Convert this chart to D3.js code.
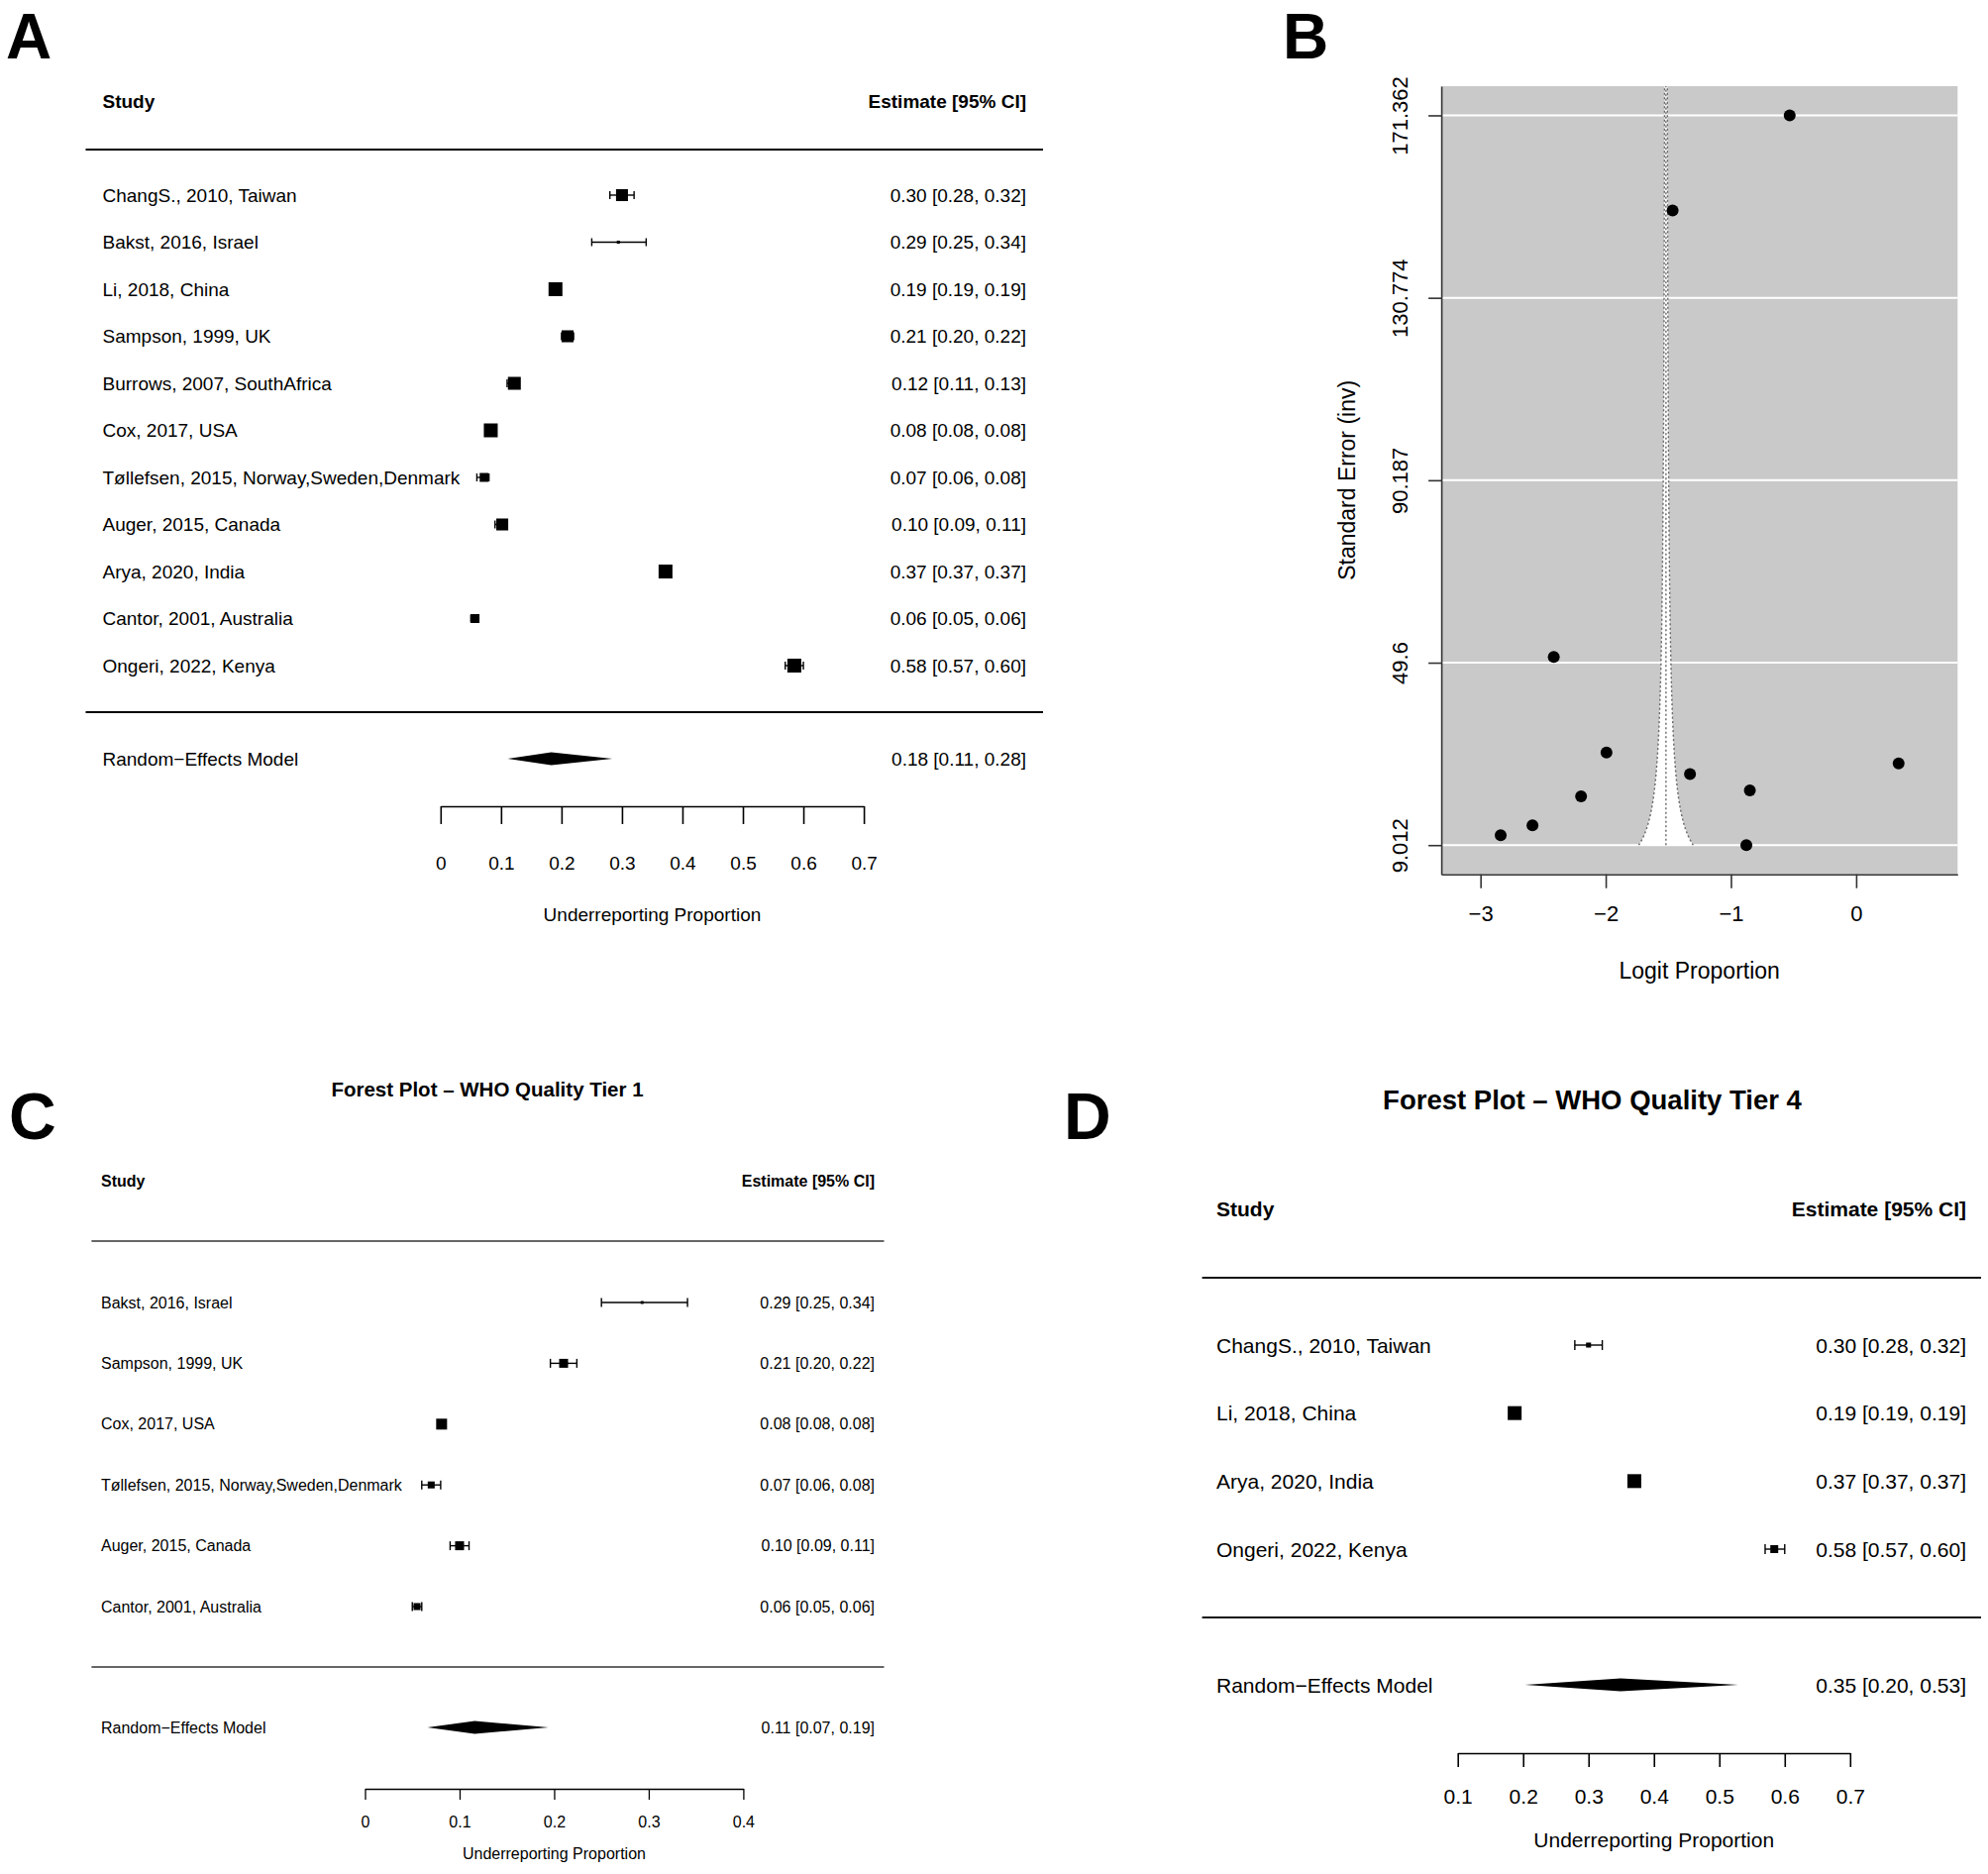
<!DOCTYPE html>
<html><head><meta charset="utf-8">
<script src="https://cdn.jsdelivr.net/npm/d3@7/dist/d3.min.js"></script>
<style>body{margin:0;background:#fff}text{font-family:"Liberation Sans",Arial,Helvetica,sans-serif;fill:#000}</style>
</head><body>
<svg id="chart" width="2007" height="1892" xmlns="http://www.w3.org/2000/svg"></svg>
<script>
// ---------------- DATA ----------------
// Panel A: all studies
const studiesA = ["ChangS., 2010, Taiwan","Bakst, 2016, Israel","Li, 2018, China","Sampson, 1999, UK","Burrows, 2007, SouthAfrica","Cox, 2017, USA","Tøllefsen, 2015, Norway,Sweden,Denmark","Auger, 2015, Canada","Arya, 2020, India","Cantor, 2001, Australia","Ongeri, 2022, Kenya"];
const estA  = [0.300,0.294,0.190,0.210,0.122,0.083,0.072,0.102,0.372,0.057,0.585];
const lowA  = [0.280,0.250,0.190,0.200,0.110,0.080,0.060,0.090,0.370,0.050,0.570];
const highA = [0.320,0.340,0.190,0.220,0.130,0.080,0.080,0.110,0.370,0.060,0.600];
const weightA = [0.86,0.22,1.0,0.86,0.93,1.0,0.64,0.86,1.0,0.64,1.0];
const ciTextA = ["0.30 [0.28, 0.32]","0.29 [0.25, 0.34]","0.19 [0.19, 0.19]","0.21 [0.20, 0.22]","0.12 [0.11, 0.13]","0.08 [0.08, 0.08]","0.07 [0.06, 0.08]","0.10 [0.09, 0.11]","0.37 [0.37, 0.37]","0.06 [0.05, 0.06]","0.58 [0.57, 0.60]"];
const poolA = [0.183, 0.111, 0.284];
const poolTextA = "0.18 [0.11, 0.28]";
const ticksA = [0,0.1,0.2,0.3,0.4,0.5,0.6,0.7];
const tickLabelsA = ["0","0.1","0.2","0.3","0.4","0.5","0.6","0.7"];

// Panel B: funnel plot (logit proportion vs inverse standard error)
const funnelStudies = ["Arya","Li","Cox","Burrows","Sampson","Auger","ChangS","Ongeri","Tøllefsen","Cantor","Bakst"];
const funnelLogit = [-0.531,-1.466,-2.415,-1.994,-1.327,-2.197,-0.849,0.339,-2.585,-2.839,-0.877];
const funnelInvSE = [171.36,150.2,50.86,29.6,24.84,19.85,21.17,27.2,13.4,11.2,9.012];
const funnelCenter = -1.519;
const funnelYTicks = [9.012,49.6,90.187,130.774,171.362];
const funnelYTickLabels = ["9.012","49.6","90.187","130.774","171.362"];
const funnelXTicks = [-3,-2,-1,0];
const funnelXTickLabels = ["\u22123","\u22122","\u22121","0"];

// Panel C: WHO quality tier 1
const studiesC = ["Bakst, 2016, Israel","Sampson, 1999, UK","Cox, 2017, USA","Tøllefsen, 2015, Norway,Sweden,Denmark","Auger, 2015, Canada","Cantor, 2001, Australia"];
const estC  = [0.293,0.210,0.081,0.070,0.100,0.055];
const lowC  = [0.250,0.196,0.080,0.060,0.090,0.050];
const highC = [0.341,0.224,0.080,0.080,0.110,0.060];
const weightC = [0.27,0.82,1.0,0.64,0.82,0.64];
const ciTextC = ["0.29 [0.25, 0.34]","0.21 [0.20, 0.22]","0.08 [0.08, 0.08]","0.07 [0.06, 0.08]","0.10 [0.09, 0.11]","0.06 [0.05, 0.06]"];
const poolC = [0.116, 0.066, 0.194];
const poolTextC = "0.11 [0.07, 0.19]";
const ticksC = [0,0.1,0.2,0.3,0.4];
const tickLabelsC = ["0","0.1","0.2","0.3","0.4"];

// Panel D: WHO quality tier 4
const studiesD = ["ChangS., 2010, Taiwan","Li, 2018, China","Arya, 2020, India","Ongeri, 2022, Kenya"];
const estD  = [0.300,0.187,0.370,0.584];
const lowD  = [0.279,0.190,0.370,0.570];
const highD = [0.321,0.190,0.370,0.600];
const weightD = [0.36,1.0,1.0,0.57];
const ciTextD = ["0.30 [0.28, 0.32]","0.19 [0.19, 0.19]","0.37 [0.37, 0.37]","0.58 [0.57, 0.60]"];
const poolD = [0.349, 0.203, 0.529];
const poolTextD = "0.35 [0.20, 0.53]";
const ticksD = [0.1,0.2,0.3,0.4,0.5,0.6,0.7];
const tickLabelsD = ["0.1","0.2","0.3","0.4","0.5","0.6","0.7"];

// ---------------- DRAWING ----------------
const svg = d3.select("#chart");

function panelLetter(t, x, y, fs) {
  svg.append("text").attr("x", x).attr("y", y).attr("font-size", fs).attr("font-weight", "bold").text(t);
}

function forest(d, L) {
  const g = svg.append("g");
  const n = d.studies.length;
  const x = d3.scaleLinear().domain(L.domain).range(L.xr);
  const y = d3.scaleLinear().domain([0, n - 1]).range([L.y0, L.y1]);
  const box = d3.scaleLinear().domain([0, 1]).range([0, L.boxMax]);
  const fs = L.fs;
  if (L.title) {
    g.append("text").attr("x", L.titleX).attr("y", L.titleY).attr("text-anchor", "middle")
      .attr("dominant-baseline", "central").attr("font-size", L.titleFs).attr("font-weight", "bold").text(L.title);
  }
  g.append("text").attr("x", L.labelX).attr("y", L.headerY).attr("dominant-baseline", "central")
    .attr("font-size", fs).attr("font-weight", "bold").text("Study");
  g.append("text").attr("x", L.estX).attr("y", L.headerY).attr("text-anchor", "end").attr("dominant-baseline", "central")
    .attr("font-size", fs).attr("font-weight", "bold").text("Estimate [95% CI]");
  [L.topLine, L.botLine].forEach(yy => {
    g.append("line").attr("x1", L.lineX[0]).attr("x2", L.lineX[1]).attr("y1", yy).attr("y2", yy)
      .attr("stroke", L.lineColor).attr("stroke-width", L.lineW);
  });
  const rows = g.selectAll("g.row").data(d3.range(n)).join("g").attr("class", "row");
  rows.append("text").attr("x", L.labelX).attr("y", i => y(i)).attr("dominant-baseline", "central")
    .attr("font-size", fs).text(i => d.studies[i]);
  rows.append("text").attr("x", L.estX).attr("y", i => y(i)).attr("text-anchor", "end").attr("dominant-baseline", "central")
    .attr("font-size", fs).text(i => d.ciText[i]);
  rows.append("line").attr("x1", i => x(d.low[i])).attr("x2", i => x(d.high[i]))
    .attr("y1", i => y(i)).attr("y2", i => y(i)).attr("stroke", "#000").attr("stroke-width", 1.4);
  ["low", "high"].forEach(k => {
    rows.append("line").attr("x1", i => x(d[k][i])).attr("x2", i => x(d[k][i]))
      .attr("y1", i => y(i) - L.cap).attr("y2", i => y(i) + L.cap).attr("stroke", "#000").attr("stroke-width", 1.4);
  });
  rows.append("rect").attr("x", i => x(d.est[i]) - box(d.weight[i]) / 2).attr("y", i => y(i) - box(d.weight[i]) / 2)
    .attr("width", i => box(d.weight[i])).attr("height", i => box(d.weight[i])).attr("fill", "#000");
  // pooled
  g.append("text").attr("x", L.labelX).attr("y", L.poolY).attr("dominant-baseline", "central")
    .attr("font-size", fs).text("Random\u2212Effects Model");
  g.append("text").attr("x", L.estX).attr("y", L.poolY).attr("text-anchor", "end").attr("dominant-baseline", "central")
    .attr("font-size", fs).text(d.poolText);
  const [pc, pl, ph] = d.pool;
  const dh = L.diamondH / 2;
  g.append("path").attr("d", `M${x(pl)},${L.poolY}L${x(pc)},${L.poolY - dh}L${x(ph)},${L.poolY}L${x(pc)},${L.poolY + dh}Z`)
    .attr("fill", "#000");
  // axis
  const pad = (L.tickLabelY - L.axisY) - L.tickLen - 0.352 * fs;
  const ax = g.append("g").attr("transform", `translate(0,${L.axisY})`)
    .call(d3.axisBottom(x).tickValues(d.ticks).tickFormat((v, i) => d.tickLabels[i]).tickSize(L.tickLen).tickSizeOuter(0).tickPadding(pad));
  ax.selectAll("path,line").attr("stroke", "#000").attr("stroke-width", L.axisW);
  ax.selectAll("text").attr("font-size", fs).attr("font-family", null);
  g.append("text").attr("x", (L.xr[0] + L.xr[1]) / 2).attr("y", L.axisTitleY).attr("text-anchor", "middle")
    .attr("dominant-baseline", "central").attr("font-size", fs).text("Underreporting Proportion");
}

// Panel A
panelLetter("A", 6, 59, 64);
forest({studies: studiesA, est: estA, low: lowA, high: highA, weight: weightA, ciText: ciTextA, pool: poolA, poolText: poolTextA, ticks: ticksA, tickLabels: tickLabelsA},
  {domain: [0, 0.7], xr: [444.8, 872.1], y0: 197, y1: 672, boxMax: 14, fs: 19, labelX: 103.5, estX: 1036, headerY: 102,
   topLine: 151, botLine: 719, lineX: [86.5, 1053], lineColor: "#000", lineW: 2, cap: 4, poolY: 766, diamondH: 13,
   axisY: 814, tickLen: 18, tickLabelY: 871, axisTitleY: 923, axisW: 1.6});

// Panel C
panelLetter("C", 9, 1150, 66);
forest({studies: studiesC, est: estC, low: lowC, high: highC, weight: weightC, ciText: ciTextC, pool: poolC, poolText: poolTextC, ticks: ticksC, tickLabels: tickLabelsC},
  {title: "Forest Plot \u2013 WHO Quality Tier 1", titleX: 492, titleY: 1099, titleFs: 20.5,
   domain: [0, 0.4], xr: [368.5, 750.4], y0: 1315, y1: 1622, boxMax: 11, fs: 16, labelX: 102, estX: 883, headerY: 1192,
   topLine: 1253, botLine: 1683, lineX: [92.4, 892.5], lineColor: "#333", lineW: 1.6, cap: 4.5, poolY: 1744, diamondH: 13,
   axisY: 1806, tickLen: 11, tickLabelY: 1839, axisTitleY: 1871, axisW: 1.3});

// Panel D
panelLetter("D", 1074, 1150, 66);
forest({studies: studiesD, est: estD, low: lowD, high: highD, weight: weightD, ciText: ciTextD, pool: poolD, poolText: poolTextD, ticks: ticksD, tickLabels: tickLabelsD},
  {title: "Forest Plot \u2013 WHO Quality Tier 4", titleX: 1607.5, titleY: 1110, titleFs: 27.5,
   domain: [0.1, 0.7], xr: [1471.7, 1867.8], y0: 1358, y1: 1564, boxMax: 14, fs: 21, labelX: 1228, estX: 1985, headerY: 1220,
   topLine: 1290, botLine: 1633, lineX: [1213.6, 2000], lineColor: "#111", lineW: 2, cap: 5, poolY: 1701, diamondH: 13,
   axisY: 1770, tickLen: 14, tickLabelY: 1813, axisTitleY: 1857, axisW: 1.6});

// Panel B: funnel
panelLetter("B", 1295, 59, 64);
(function () {
  const g = svg.append("g");
  const L = {left: 1455.1, right: 1976.3, top: 87, bottom: 882.7};
  const x = d3.scaleLinear().domain([-3.313, 0.810]).range([L.left, L.right]);
  const y = d3.scaleLinear().domain([2.518, 177.856]).range([L.bottom, L.top]);
  const [yLo, yHi] = [funnelYTicks[0], y.domain()[1]];
  g.append("rect").attr("x", L.left).attr("y", L.top).attr("width", L.right - L.left).attr("height", L.bottom - L.top).attr("fill", "#c9c9c9");
  g.selectAll("line.grid").data(funnelYTicks).join("line").attr("class", "grid")
    .attr("x1", L.left).attr("x2", L.right).attr("y1", v => y(v)).attr("y2", v => y(v))
    .attr("stroke", "#fff").attr("stroke-width", 2);
  // funnel region (pseudo 95% limits around the pooled estimate)
  const ys = d3.range(yLo, yHi, 0.25).concat([yHi]);
  const leftEdge = ys.map(v => [x(funnelCenter - 1.96 / v), y(v)]);
  const rightEdge = ys.map(v => [x(funnelCenter + 1.96 / v), y(v)]);
  g.append("path").attr("d", d3.line()(leftEdge.concat(rightEdge.slice().reverse())) + "Z").attr("fill", "#fff");
  [leftEdge, rightEdge].forEach(pts => {
    g.append("path").attr("d", d3.line()(pts)).attr("fill", "none").attr("stroke", "#666")
      .attr("stroke-width", 1.4).attr("stroke-dasharray", "2,2.5");
  });
  g.append("line").attr("x1", x(funnelCenter)).attr("x2", x(funnelCenter)).attr("y1", y(yLo)).attr("y2", L.top)
    .attr("stroke", "#666").attr("stroke-width", 1.4).attr("stroke-dasharray", "2,2.5");
  g.selectAll("circle").data(funnelLogit).join("circle")
    .attr("cx", v => x(v)).attr("cy", (v, i) => y(funnelInvSE[i])).attr("r", 6).attr("fill", "#000");
  // axes (box bty="l")
  const xa = g.append("g").attr("transform", `translate(0,${L.bottom})`)
    .call(d3.axisBottom(x).tickValues(funnelXTicks).tickFormat((v, i) => funnelXTickLabels[i]).tickSize(14).tickSizeOuter(0).tickPadding(18));
  xa.selectAll("text").attr("font-size", 22).attr("font-family", null);
  const ya = g.append("g").attr("transform", `translate(${L.left},0)`)
    .call(d3.axisLeft(y).tickValues(funnelYTicks).tickFormat((v, i) => funnelYTickLabels[i]).tickSize(13).tickSizeOuter(0));
  ya.selectAll("text").attr("font-size", 22).attr("font-family", null).attr("x", 0).attr("y", -41.5).attr("dy", null)
    .attr("transform", "rotate(-90)").attr("text-anchor", "middle").attr("dominant-baseline", "central");
  [xa, ya].forEach(a => a.selectAll("path,line").attr("stroke", "#333").attr("stroke-width", 1.6));
  g.append("text").attr("x", (L.left + L.right) / 2).attr("y", 980).attr("text-anchor", "middle")
    .attr("dominant-baseline", "central").attr("font-size", 23).text("Logit Proportion");
  g.append("text").attr("transform", `translate(1359.5,${(L.top + L.bottom) / 2}) rotate(-90)`).attr("text-anchor", "middle")
    .attr("dominant-baseline", "central").attr("font-size", 23).text("Standard Error (inv)");
})();
</script></body></html>
